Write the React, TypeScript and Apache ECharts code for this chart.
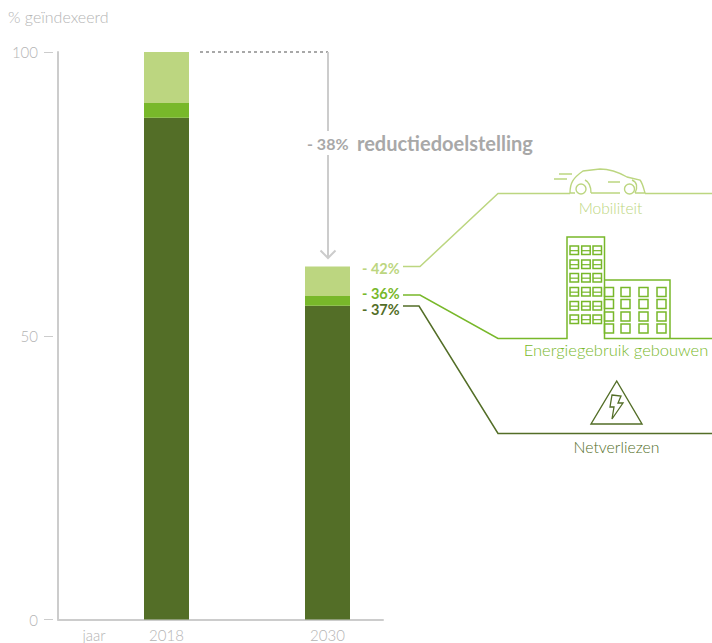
import React, { useEffect, useRef } from "react";
import * as echarts from "echarts";

const years = ["2018", "2030"];
const netverliezen = [88.4, 55.3];
const gebouwen = [2.6, 1.7];
const mobiliteit = [9.0, 5.2];
const axisTitle = "% geïndexeerd";
const xTitle = "jaar";
const reductionPct = "- 38%";
const reductionLabel = "reductiedoelstelling";
const pctLabels = ["- 42%", "- 36%", "- 37%"];
const sectorLabels = ["Mobiliteit", "Energiegebruik gebouwen", "Netverliezen"];

const LIGHT = "#bcd680";
const MID = "#78b82a";
const DARK = "#536e27";
const GREY = "#cccccc";
const TEXT = "#b4b4b4";
const FONT = "Lato, 'Open Sans', sans-serif";

const carPath =
  "M570,193 C570,183 573,178 583,171 L600,169 C612,169 620,173 627,177 L640,180 C643,184 644,190 645,193 L635,193 M620,193 L591,193 M575,193 L570,193 " +
  "M586,189 A5,5 0 1 1 576,189 A5,5 0 1 1 586,189 M634.5,189 A5,5 0 1 1 624.5,189 A5,5 0 1 1 634.5,189 " +
  "M591,193 C591,187 589,182 585,180 M635,193 C638,187 637,182 632,180 " +
  "M559,174 L572,174 M554,179 L567,179 M608,182 L620,182";
const boltPath = "M612,395 L621,396 L618,403 L623,403 L612,419 L614,407 L610,407 Z";
echarts.graphic.registerShape("carIcon", echarts.graphic.extendPath(carPath, {}) as any);
echarts.graphic.registerShape("boltIcon", echarts.graphic.extendPath(boltPath, {}) as any);

const line = (points: number[][], stroke: string, lineWidth = 1.5, lineDash?: number[]) => ({
  type: "polyline",
  shape: { points },
  style: { stroke, lineWidth, fill: "none", lineDash },
  silent: true,
});
const label = (
  text: string,
  x: number,
  y: number,
  fill: string,
  size: number,
  align = "center",
  weight: string | number = 300
) => ({
  type: "text",
  x,
  y,
  silent: true,
  style: {
    text,
    fill,
    font: `${weight} ${size}px ${FONT}`,
    textAlign: align,
    textVerticalAlign: "middle",
  },
});
const win = (x: number, y: number, w: number, h: number, mid: boolean) => {
  const out: any[] = [
    { type: "rect", shape: { x, y, width: w, height: h }, style: { stroke: MID, lineWidth: 1.5, fill: "none" }, silent: true },
  ];
  if (mid) out.push(line([[x, y + h * 0.55], [x + w, y + h * 0.55]], MID, 1.2));
  return out;
};

function buildGraphics() {
  const g: any[] = [];
  g.push(label(axisTitle, 8, 16, TEXT, 16, "left"));
  g.push(label(xTitle, 94, 634.5, TEXT, 15));

  // reduction arrow
  g.push(line([[200, 52], [328, 52]], "#a8a8a8", 2, [3, 3]));
  g.push(line([[328, 52], [328, 131]], GREY, 2));
  g.push(line([[328, 155], [328, 258]], GREY, 2));
  g.push(line([[320.5, 250.5], [328, 258], [335.5, 250.5]], GREY, 2));
  g.push(label(reductionPct, 307, 143.5, "#a8a8a8", 16, "left", "bold"));
  g.push(label(reductionLabel, 357, 142.5, "#a8a8a8", 20, "left", "bold"));

  // percentages
  g.push(label(pctLabels[0], 362, 268.5, LIGHT, 14.5, "left", "bold"));
  g.push(label(pctLabels[1], 362, 293, MID, 14.5, "left", "bold"));
  g.push(label(pctLabels[2], 362, 309.5, DARK, 14.5, "left", "bold"));

  // connectors
  g.push(line([[403, 266.5], [420, 266.5], [498, 193.5], [570, 193.5]], LIGHT));
  g.push(line([[645, 193.5], [712, 193.5]], LIGHT));
  g.push(line([[403, 295], [420, 295], [498, 338.5], [567, 338.5], [567, 237], [604.5, 237], [604.5, 338.5], [712, 338.5]], MID));
  g.push(line([[604.5, 280], [670, 280], [670, 338.5]], MID));
  g.push(line([[403, 306], [419, 306], [498, 433.5], [712, 433.5]], DARK));

  // car
  g.push({ type: "carIcon", silent: true, style: { stroke: LIGHT, lineWidth: 1.4, fill: "none" } });
  g.push(label(sectorLabels[0], 610.5, 207.5, LIGHT, 15.5));

  // buildings
  [570, 581.7, 593].forEach((x) =>
    [246, 260, 273.5, 287.5, 301.5, 315].forEach((y) => g.push(...win(x, y, 8.5, 8.5, true)))
  );
  [604.5, 621, 639, 657].forEach((x) =>
    [287.5, 299.5, 312, 324].forEach((y) => g.push(...win(x, y, 9, 9, false)))
  );
  g.push(label(sectorLabels[1], 616, 350, MID, 16.5));

  // triangle
  g.push({
    type: "polygon",
    silent: true,
    shape: { points: [[616.7, 381], [642, 424], [591, 424]] },
    style: { stroke: DARK, lineWidth: 1.4, fill: "none" },
  });
  g.push({ type: "boltIcon", silent: true, style: { stroke: DARK, lineWidth: 1.3, fill: "none" } });
  g.push(label(sectorLabels[2], 616.5, 446, DARK, 15.8));
  return g;
}

const seriesOf = (name: string, values: number[], color: string) => ({
  name,
  type: "bar",
  stack: "total",
  barWidth: 45,
  xAxisIndex: 0,
  yAxisIndex: 0,
  itemStyle: { color },
  data: values,
});

export default function App() {
  const ref = useRef<HTMLDivElement>(null);
  useEffect(() => {
    document.body.style.margin = "0";
    const chart = echarts.init(ref.current!, undefined, { renderer: "svg" });
    chart.setOption({
      animation: false,
      textStyle: { fontFamily: FONT },
      grid: [
        { left: 86, width: 322, top: 52, bottom: 23.5 },
        { left: 58, width: 325, top: 52, bottom: 23.5 },
      ],
      xAxis: [
        {
          type: "category",
          gridIndex: 0,
          data: years,
          axisTick: { show: false },
          axisLine: { show: false },
          axisLabel: { color: TEXT, fontSize: 15, fontWeight: 300, margin: 8, fontFamily: FONT },
        },
        {
          type: "value",
          gridIndex: 1,
          min: 0,
          max: 1,
          splitLine: { show: false },
          axisTick: { show: false },
          axisLabel: { show: false },
          axisLine: { show: true, lineStyle: { color: GREY, width: 2 } },
        },
      ],
      yAxis: [
        {
          type: "value",
          gridIndex: 0,
          min: 0,
          max: 100,
          show: false,
        },
        {
          type: "value",
          gridIndex: 1,
          position: "left",
          min: 0,
          max: 100,
          interval: 50,
          offset: 5,
          splitLine: { show: false },
          axisLine: { show: false, onZero: false },
          axisTick: { show: true, length: 9, lineStyle: { color: GREY, width: 1 } },
          axisLabel: { color: TEXT, fontSize: 15, fontWeight: 300, margin: 15, fontFamily: FONT },
        },
        {
          type: "value",
          gridIndex: 1,
          position: "left",
          min: 0,
          max: 100,
          interval: 50,
          splitLine: { show: false },
          axisTick: { show: false },
          axisLabel: { show: false },
          axisLine: { show: true, onZero: false, lineStyle: { color: GREY, width: 2 } },
        },
      ],
      series: [
        seriesOf("Netverliezen", netverliezen, DARK),
        seriesOf("Energiegebruik gebouwen", gebouwen, MID),
        seriesOf("Mobiliteit", mobiliteit, LIGHT),
      ],
      graphic: buildGraphics(),
    });
    return () => chart.dispose();
  }, []);
  return <div ref={ref} style={{ width: 712, height: 643 }} />;
}
